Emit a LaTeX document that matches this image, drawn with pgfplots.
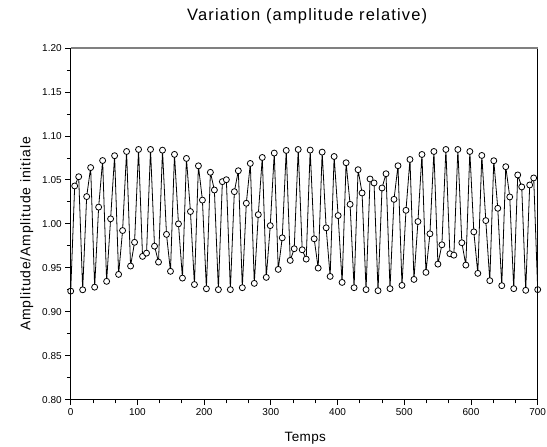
\documentclass[border=0pt]{standalone}
\usepackage{pgfplots}
\pgfplotsset{compat=1.18}
\usepackage{fontspec}
\setmainfont{Liberation Sans}
\newfontfamily\titlefont[LetterSpace=7]{Liberation Sans}
\newfontfamily\labelfont[LetterSpace=6]{Liberation Sans}
\newfontfamily\xlabfont[LetterSpace=3]{Liberation Sans}
\begin{document}
\begin{tikzpicture}[x=1pt,y=1pt]
\path[use as bounding box] (-70.7,-47.3) rectangle (476.3,399.7);
\begin{axis}[name=ax, at={(0,0)}, anchor=south west, scale only axis,
  width=467pt, height=351.7pt,
  xmin=0, xmax=700, ymin=0.8, ymax=1.2,
  xtick={0,100,200,300,400,500,600,700},
  ytick={0.80,0.85,0.90,0.95,1.00,1.05,1.10,1.15,1.20},
  minor x tick num=2, minor y tick num=1,
  tick align=outside, xtick pos=bottom, ytick pos=left,
  major tick length=5.5pt, minor tick length=3.7pt,
  tick style={black, line width=0.8pt},
  axis line style={draw=none},
  /pgf/number format/assume math mode=true,
  yticklabel style={/pgf/number format/.cd, fixed, fixed zerofill, precision=2},
  ticklabel style={font=\fontsize{10}{12}\selectfont},
  ]
\addplot[black, line width=0.8pt, mark=*, mark size=3pt,
  mark options={fill=white, draw=black, line width=0.8pt, solid}] table {
x y
0 0.9235
5.98 1.0431
11.97 1.0536
17.95 0.9250
23.93 1.0310
29.91 1.0640
35.90 0.9280
41.88 1.0190
47.86 1.0720
53.85 0.9346
59.83 1.0057
65.81 1.0775
71.79 0.9425
77.78 0.9924
83.76 1.0823
89.74 0.9520
95.73 0.9790
101.71 1.0846
107.69 0.9630
113.68 0.9667
119.66 1.0846
125.64 0.9746
131.62 0.9565
137.61 1.0838
143.59 0.9880
149.57 0.9460
155.56 1.0790
161.54 1.0000
167.52 0.9383
173.50 1.0744
179.49 1.0140
185.47 0.9310
191.45 1.0660
197.44 1.0270
203.42 0.9262
209.40 1.0586
215.38 1.0385
221.37 0.9252
227.35 1.0480
233.33 1.0502
239.32 0.9252
245.30 1.0366
251.28 1.0604
257.26 0.9274
263.25 1.0234
269.23 1.0687
275.21 0.9323
281.20 1.0105
287.18 1.0755
293.16 0.9391
299.15 0.9980
305.13 1.0805
311.11 0.9482
317.09 0.9841
323.08 1.0835
329.06 0.9584
335.04 0.9717
341.03 1.0846
347.01 0.9705
352.99 0.9599
358.97 1.0839
364.96 0.9830
370.94 0.9497
376.92 1.0816
382.91 0.9955
388.89 0.9402
394.87 1.0766
400.85 1.0094
406.84 0.9334
412.82 1.0695
418.80 1.0222
424.79 0.9274
430.77 1.0616
436.75 1.0351
442.74 0.9252
448.72 1.0510
454.70 1.0465
460.68 0.9240
466.67 1.0408
472.65 1.0570
478.63 0.9263
484.62 1.0279
490.60 1.0661
496.58 0.9300
502.56 1.0154
508.55 1.0732
514.53 0.9368
520.51 1.0026
526.50 1.0789
532.48 0.9448
538.46 0.9887
544.44 1.0823
550.43 0.9542
556.41 0.9762
562.39 1.0846
568.38 0.9660
574.36 0.9644
580.34 1.0846
586.32 0.9785
592.31 0.9531
598.29 1.0823
604.27 0.9909
610.26 0.9437
616.24 1.0778
622.22 1.0037
628.21 0.9354
634.19 1.0718
640.17 1.0177
646.15 0.9297
652.14 1.0650
658.12 1.0306
664.10 0.9263
670.09 1.0556
676.07 1.0420
682.05 0.9244
688.03 1.0442
694.02 1.0522
700 0.9252
};
\end{axis}
\draw[black, line width=1pt] (ax.north east) -- (ax.south east) -- (ax.south west) -- (ax.north west);
\draw[black!50, line width=1.3pt] (ax.north west) -- (ax.north east);
\node[anchor=base, inner sep=0pt] at (236.5,379) {\titlefont\fontsize{16.5}{19}\selectfont Variation (amplitude relative)};
\node[anchor=base, inner sep=0pt, rotate=90] at (-40.3,165.7) {\labelfont\fontsize{14}{17}\selectfont Amplitude/Amplitude initiale};
\node[anchor=base, inner sep=0pt] at (234.6,-42) {\xlabfont\fontsize{13.5}{16}\selectfont Temps};
\end{tikzpicture}
\end{document}
